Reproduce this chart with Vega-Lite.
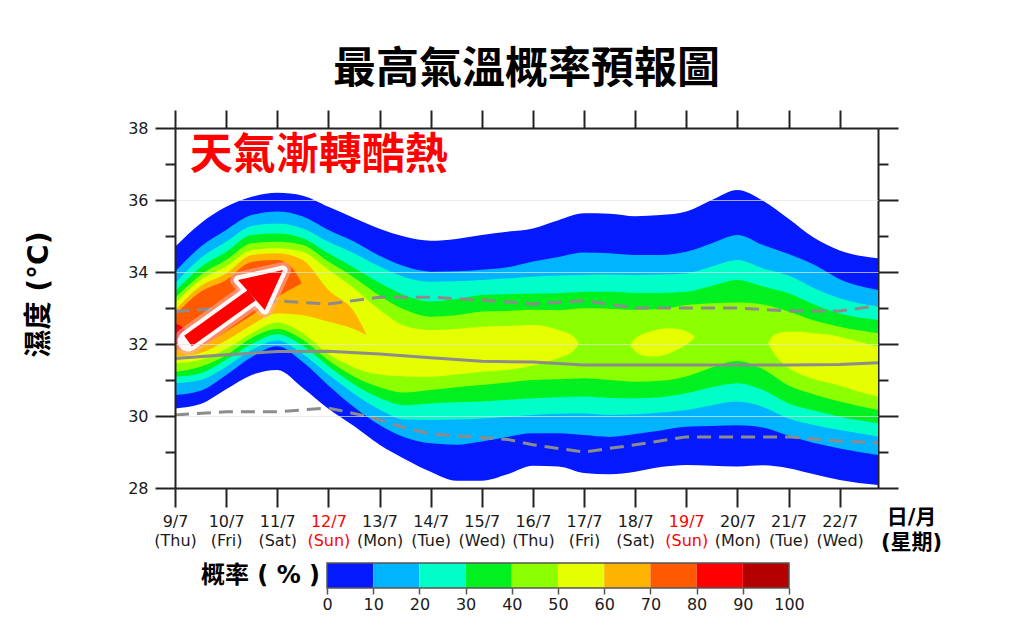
{
  "$schema": "https://vega.github.io/schema/vega-lite/v6.json",
  "background": "white",
  "padding": {"left": 25, "top": 49, "right": 5, "bottom": 5},
  "spacing": 10,
  "config": {"view": {"stroke": null}},
  "datasets": {
    "bands": [
      {"g":"L0","d":9,"t":34.70,"b":30.21},{"g":"L0","d":9.5,"t":35.35,"b":30.33},{"g":"L0","d":10,"t":35.81,"b":30.74},{"g":"L0","d":10.5,"t":36.09,"b":31.14},{"g":"L0","d":11,"t":36.20,"b":31.28},{"g":"L0","d":11.5,"t":36.12,"b":30.78},{"g":"L0","d":12,"t":35.81,"b":30.20},{"g":"L0","d":12.5,"t":35.50,"b":29.72},{"g":"L0","d":13,"t":35.20,"b":29.20},{"g":"L0","d":13.5,"t":34.98,"b":28.80},{"g":"L0","d":14,"t":34.87,"b":28.45},{"g":"L0","d":14.5,"t":34.92,"b":28.20},{"g":"L0","d":15,"t":35.03,"b":28.20},{"g":"L0","d":15.5,"t":35.12,"b":28.38},{"g":"L0","d":16,"t":35.21,"b":28.62},{"g":"L0","d":16.5,"t":35.44,"b":28.60},{"g":"L0","d":17,"t":35.63,"b":28.42},{"g":"L0","d":17.5,"t":35.62,"b":28.38},{"g":"L0","d":18,"t":35.55,"b":28.45},{"g":"L0","d":18.5,"t":35.58,"b":28.58},{"g":"L0","d":19,"t":35.68,"b":28.64},{"g":"L0","d":19.5,"t":36.00,"b":28.62},{"g":"L0","d":20,"t":36.28,"b":28.60},{"g":"L0","d":20.5,"t":35.98,"b":28.63},{"g":"L0","d":21,"t":35.48,"b":28.55},{"g":"L0","d":21.5,"t":34.95,"b":28.38},{"g":"L0","d":22,"t":34.60,"b":28.22},{"g":"L0","d":22.75,"t":34.38,"b":28.08},
      {"g":"L10","d":9,"t":34.01,"b":30.58},{"g":"L10","d":9.5,"t":34.70,"b":30.70},{"g":"L10","d":10,"t":35.17,"b":31.14},{"g":"L10","d":10.5,"t":35.58,"b":31.64},{"g":"L10","d":11,"t":35.68,"b":31.94},{"g":"L10","d":11.5,"t":35.54,"b":31.50},{"g":"L10","d":12,"t":35.17,"b":30.85},{"g":"L10","d":12.5,"t":34.85,"b":30.25},{"g":"L10","d":13,"t":34.45,"b":29.75},{"g":"L10","d":13.5,"t":34.15,"b":29.40},{"g":"L10","d":14,"t":34.01,"b":29.24},{"g":"L10","d":14.5,"t":34.02,"b":29.20},{"g":"L10","d":15,"t":34.06,"b":29.29},{"g":"L10","d":15.5,"t":34.13,"b":29.42},{"g":"L10","d":16,"t":34.29,"b":29.52},{"g":"L10","d":16.5,"t":34.42,"b":29.52},{"g":"L10","d":17,"t":34.54,"b":29.47},{"g":"L10","d":17.5,"t":34.52,"b":29.42},{"g":"L10","d":18,"t":34.47,"b":29.50},{"g":"L10","d":18.5,"t":34.47,"b":29.60},{"g":"L10","d":19,"t":34.56,"b":29.70},{"g":"L10","d":19.5,"t":34.80,"b":29.72},{"g":"L10","d":20,"t":35.03,"b":29.74},{"g":"L10","d":20.5,"t":34.75,"b":29.68},{"g":"L10","d":21,"t":34.50,"b":29.45},{"g":"L10","d":21.5,"t":34.20,"b":29.25},{"g":"L10","d":22,"t":33.80,"b":29.10},{"g":"L10","d":22.75,"t":33.50,"b":28.92},
      {"g":"L20","d":9,"t":33.69,"b":30.91},{"g":"L20","d":9.5,"t":34.38,"b":31.00},{"g":"L20","d":10,"t":34.84,"b":31.37},{"g":"L20","d":10.5,"t":35.28,"b":31.83},{"g":"L20","d":11,"t":35.35,"b":32.10},{"g":"L20","d":11.5,"t":35.21,"b":31.72},{"g":"L20","d":12,"t":34.84,"b":31.15},{"g":"L20","d":12.5,"t":34.52,"b":30.62},{"g":"L20","d":13,"t":34.15,"b":30.18},{"g":"L20","d":13.5,"t":33.85,"b":29.90},{"g":"L20","d":14,"t":33.73,"b":29.89},{"g":"L20","d":14.5,"t":33.74,"b":29.90},{"g":"L20","d":15,"t":33.78,"b":29.93},{"g":"L20","d":15.5,"t":33.82,"b":29.98},{"g":"L20","d":16,"t":33.87,"b":30.03},{"g":"L20","d":16.5,"t":33.90,"b":30.06},{"g":"L20","d":17,"t":33.92,"b":30.07},{"g":"L20","d":17.5,"t":33.93,"b":30.03},{"g":"L20","d":18,"t":33.92,"b":30.05},{"g":"L20","d":18.5,"t":33.93,"b":30.10},{"g":"L20","d":19,"t":33.96,"b":30.17},{"g":"L20","d":19.5,"t":34.15,"b":30.30},{"g":"L20","d":20,"t":34.33,"b":30.40},{"g":"L20","d":20.5,"t":34.10,"b":30.25},{"g":"L20","d":21,"t":33.90,"b":29.93},{"g":"L20","d":21.5,"t":33.55,"b":29.75},{"g":"L20","d":22,"t":33.27,"b":29.61},{"g":"L20","d":22.75,"t":33.04,"b":29.43},
      {"g":"L30","d":9,"t":33.45,"b":31.09},{"g":"L30","d":9.5,"t":34.13,"b":31.19},{"g":"L30","d":10,"t":34.56,"b":31.56},{"g":"L30","d":10.5,"t":35.03,"b":32.00},{"g":"L30","d":11,"t":35.07,"b":32.27},{"g":"L30","d":11.5,"t":34.94,"b":31.95},{"g":"L30","d":12,"t":34.52,"b":31.38},{"g":"L30","d":12.5,"t":34.12,"b":30.88},{"g":"L30","d":13,"t":33.70,"b":30.50},{"g":"L30","d":13.5,"t":33.35,"b":30.30},{"g":"L30","d":14,"t":33.18,"b":30.35},{"g":"L30","d":14.5,"t":33.25,"b":30.38},{"g":"L30","d":15,"t":33.36,"b":30.40},{"g":"L30","d":15.5,"t":33.38,"b":30.45},{"g":"L30","d":16,"t":33.40,"b":30.49},{"g":"L30","d":16.5,"t":33.41,"b":30.52},{"g":"L30","d":17,"t":33.45,"b":30.54},{"g":"L30","d":17.5,"t":33.45,"b":30.50},{"g":"L30","d":18,"t":33.42,"b":30.49},{"g":"L30","d":18.5,"t":33.42,"b":30.52},{"g":"L30","d":19,"t":33.45,"b":30.63},{"g":"L30","d":19.5,"t":33.62,"b":30.80},{"g":"L30","d":20,"t":33.78,"b":30.91},{"g":"L30","d":20.5,"t":33.60,"b":30.72},{"g":"L30","d":21,"t":33.41,"b":30.35},{"g":"L30","d":21.5,"t":33.10,"b":30.15},{"g":"L30","d":22,"t":32.85,"b":29.98},{"g":"L30","d":22.75,"t":32.67,"b":29.80},
      {"g":"L40","d":9,"t":33.27,"b":31.23},{"g":"L40","d":9.5,"t":33.92,"b":31.37},{"g":"L40","d":10,"t":34.33,"b":31.69},{"g":"L40","d":10.5,"t":34.80,"b":32.17},{"g":"L40","d":11,"t":34.84,"b":32.42},{"g":"L40","d":11.5,"t":34.75,"b":32.12},{"g":"L40","d":12,"t":34.29,"b":31.55},{"g":"L40","d":12.5,"t":33.85,"b":31.10},{"g":"L40","d":13,"t":33.35,"b":30.80},{"g":"L40","d":13.5,"t":32.95,"b":30.65},{"g":"L40","d":14,"t":32.76,"b":30.72},{"g":"L40","d":14.5,"t":32.80,"b":30.80},{"g":"L40","d":15,"t":32.90,"b":30.86},{"g":"L40","d":15.5,"t":32.92,"b":30.93},{"g":"L40","d":16,"t":32.95,"b":31.00},{"g":"L40","d":16.5,"t":32.94,"b":31.02},{"g":"L40","d":17,"t":32.99,"b":31.05},{"g":"L40","d":17.5,"t":32.98,"b":31.00},{"g":"L40","d":18,"t":32.95,"b":30.95},{"g":"L40","d":18.5,"t":32.97,"b":30.98},{"g":"L40","d":19,"t":33.08,"b":31.10},{"g":"L40","d":19.5,"t":33.13,"b":31.35},{"g":"L40","d":20,"t":33.15,"b":31.53},{"g":"L40","d":20.5,"t":33.10,"b":31.30},{"g":"L40","d":21,"t":32.90,"b":30.85},{"g":"L40","d":21.5,"t":32.65,"b":30.60},{"g":"L40","d":22,"t":32.48,"b":30.40},{"g":"L40","d":22.75,"t":32.30,"b":30.17},
      {"g":"L50a","d":9,"t":33.13,"b":31.46},{"g":"L50a","d":9.5,"t":33.78,"b":31.56},{"g":"L50a","d":10,"t":34.15,"b":31.86},{"g":"L50a","d":10.5,"t":34.61,"b":32.30},{"g":"L50a","d":11,"t":34.66,"b":32.60},{"g":"L50a","d":11.5,"t":34.56,"b":32.30},{"g":"L50a","d":12,"t":34.06,"b":31.72},{"g":"L50a","d":12.5,"t":33.55,"b":31.35},{"g":"L50a","d":13,"t":32.95,"b":31.15},{"g":"L50a","d":13.5,"t":32.50,"b":31.10},{"g":"L50a","d":14,"t":32.39,"b":31.09},{"g":"L50a","d":14.5,"t":32.42,"b":31.15},{"g":"L50a","d":15,"t":32.48,"b":31.23},{"g":"L50a","d":15.5,"t":32.50,"b":31.28},{"g":"L50a","d":16,"t":32.53,"b":31.40},{"g":"L50a","d":16.5,"t":32.39,"b":31.61},{"g":"L50a","d":16.8,"t":32.20,"b":31.82},{"g":"L50a","d":16.9,"t":32.00,"b":32.00},
      {"g":"L50b","d":17.9,"t":31.97,"b":31.97},{"g":"L50b","d":18.0,"t":32.15,"b":31.80},{"g":"L50b","d":18.15,"t":32.27,"b":31.68},{"g":"L50b","d":18.35,"t":32.37,"b":31.65},{"g":"L50b","d":18.65,"t":32.44,"b":31.73},{"g":"L50b","d":18.85,"t":32.42,"b":31.86},{"g":"L50b","d":19.02,"t":32.34,"b":32.00},{"g":"L50b","d":19.12,"t":32.26,"b":32.12},{"g":"L50b","d":19.17,"t":32.19,"b":32.19},
      {"g":"L50c","d":20.6,"t":32.02,"b":32.02},{"g":"L50c","d":20.68,"t":32.20,"b":31.82},{"g":"L50c","d":20.8,"t":32.30,"b":31.58},{"g":"L50c","d":21.0,"t":32.34,"b":31.34},{"g":"L50c","d":21.2,"t":32.34,"b":31.18},{"g":"L50c","d":21.5,"t":32.30,"b":31.02},{"g":"L50c","d":21.84,"t":32.25,"b":30.90},{"g":"L50c","d":22.2,"t":32.13,"b":30.76},{"g":"L50c","d":22.49,"t":32.02,"b":30.63},{"g":"L50c","d":22.75,"t":31.93,"b":30.54},
      {"g":"L60","d":9,"t":32.94,"b":31.65},{"g":"L60","d":9.5,"t":33.61,"b":31.75},{"g":"L60","d":10,"t":33.96,"b":32.10},{"g":"L60","d":10.5,"t":34.47,"b":32.53},{"g":"L60","d":11,"t":34.52,"b":32.85},{"g":"L60","d":11.5,"t":34.33,"b":32.80},{"g":"L60","d":12,"t":33.50,"b":32.62},{"g":"L60","d":12.5,"t":32.90,"b":32.42},{"g":"L60","d":12.75,"t":32.25,"b":32.25},
      {"g":"L70","d":9,"t":32.81,"b":31.83},{"g":"L70","d":9.5,"t":33.45,"b":31.95},{"g":"L70","d":10,"t":33.78,"b":32.35},{"g":"L70","d":10.5,"t":34.28,"b":32.80},{"g":"L70","d":11,"t":34.33,"b":33.30},{"g":"L70","d":11.3,"t":34.10,"b":33.55},{"g":"L70","d":11.48,"t":33.69,"b":33.69},
      {"g":"L80","d":9,"t":32.57,"b":31.97},{"g":"L80","d":9.12,"t":32.50,"b":32.05},{"g":"L80","d":9.25,"t":32.30,"b":32.30}
    ],
    "median": [{"d":9,"v":31.6},{"d":10,"v":31.7},{"d":11,"v":31.79},{"d":12,"v":31.8},{"d":13,"v":31.72},{"d":14,"v":31.62},{"d":15,"v":31.52},{"d":16,"v":31.5},{"d":17,"v":31.42},{"d":18,"v":31.42},{"d":19,"v":31.42},{"d":20,"v":31.42},{"d":21,"v":31.42},{"d":22,"v":31.43},{"d":22.75,"v":31.48}],
    "upper": [{"d":9,"v":32.9},{"d":10,"v":33.0},{"d":11,"v":33.2},{"d":12,"v":33.11},{"d":13,"v":33.3},{"d":14,"v":33.3},{"d":15,"v":33.22},{"d":16,"v":33.11},{"d":17,"v":33.2},{"d":18,"v":33.0},{"d":19,"v":33.0},{"d":20,"v":33.0},{"d":21,"v":32.92},{"d":22,"v":32.92},{"d":22.75,"v":33.06}],
    "lower": [{"d":9,"v":30.03},{"d":10,"v":30.12},{"d":11,"v":30.12},{"d":12,"v":30.22},{"d":12.8,"v":29.98},{"d":13.5,"v":29.67},{"d":14,"v":29.5},{"d":15,"v":29.4},{"d":15.5,"v":29.35},{"d":16,"v":29.2},{"d":17,"v":29.0},{"d":18,"v":29.2},{"d":19,"v":29.42},{"d":20,"v":29.42},{"d":21,"v":29.42},{"d":22,"v":29.3},{"d":22.75,"v":29.26}],
    "shaft": [{"d":9.2545,"v":32.083},{"d":10.5,"v":33.355}],
    "head": [{"d":10.233,"t":33.778,"b":33.778},{"d":10.756,"t":33.943,"b":32.944},{"d":11.114,"t":34.056,"b":34.056}],
    "note": [{"d":9.29,"v":37.21,"txt":"天氣漸轉酷熱"}],
    "cells": [{"lo":0,"hi":10,"c":"#0519ff"},{"lo":10,"hi":20,"c":"#00b4ff"},{"lo":20,"hi":30,"c":"#00ffc8"},{"lo":30,"hi":40,"c":"#00f020"},{"lo":40,"hi":50,"c":"#8cff00"},{"lo":50,"hi":60,"c":"#e6ff00"},{"lo":60,"hi":70,"c":"#ffb400"},{"lo":70,"hi":80,"c":"#ff5a00"},{"lo":80,"hi":90,"c":"#ff0000"},{"lo":90,"hi":100,"c":"#b40000"}],
    "frame": [{"lo":0,"hi":100}],
    "legtitle": [{"x":-1.5,"txt":"概率 ( % )"}]
  },
  "vconcat": [
    {
      "width": 703,
      "height": 360,
      "title": {"text": "最高氣溫概率預報圖", "font": "Noto Sans CJK TC", "fontSize": 43, "fontWeight": "bold", "color": "#000000", "anchor": "middle", "offset": 17},
      "resolve": {"axis": {"x": "independent", "y": "independent"}},
      "layer": [
        {
          "data": {"name": "bands"},
          "transform": [{"filter": "datum.g == 'L0'"}],
          "mark": {"type": "area", "interpolate": "monotone", "color": "#0519ff"},
          "encoding": {
            "x": {"field": "d", "type": "quantitative", "scale": {"domain": [9, 22.75], "nice": false, "zero": false},
              "axis": {"orient": "bottom", "values": [9,10,11,12,13,14,15,16,17,18,19,20,21,22], "grid": false, "tickSize": 19, "tickWidth": 2, "tickColor": "#222222", "domainColor": "#222222", "domainWidth": 2,
                "labelFont": "DejaVu Sans", "labelFontSize": 16, "labelPadding": 6, "labelLineHeight": 19, "labelFlush": false, "labelOverlap": false,
                "labelColor": {"condition": {"test": "datum.value == 12 || datum.value == 19", "value": "#ff0000"}, "value": "#1a1a1a"},
                "labelExpr": "[datum.value + '/7', '(' + ['Thu','Fri','Sat','Sun','Mon','Tue','Wed'][(datum.value - 9) % 7] + ')']",
                "title": ["日/月", "(星期)"], "titleFont": "DejaVu Sans, Noto Sans CJK TC", "titleFontSize": 21, "titleFontWeight": "bold", "titleColor": "#000000",
                "titleX": 736, "titleY": 18, "titleAlign": "center", "titleBaseline": "top", "titleLineHeight": 25}},
            "y": {"field": "t", "type": "quantitative", "stack": null, "scale": {"domain": [28, 38], "nice": false, "zero": false},
              "axis": {"orient": "left", "values": [28,29,30,31,32,33,34,35,36,37,38], "zindex": 1,
                "tickSize": {"condition": {"test": "datum.value % 2 == 0", "value": 20}, "value": 10}, "tickWidth": 2, "tickColor": "#222222", "domainColor": "#222222", "domainWidth": 2,
                "labelExpr": "datum.value % 2 == 0 ? datum.label : ''", "labelFont": "DejaVu Sans", "labelFontSize": 16, "labelColor": "#1a1a1a", "labelPadding": 7,
                "grid": true, "gridColor": "#e4e4e4", "gridWidth": 1.2,
                "gridOpacity": {"condition": {"test": "datum.value % 2 == 0 && datum.value > 28 && datum.value < 38", "value": 0.7}, "value": 0},
                "title": "濕度 (°C)", "titleFont": "DejaVu Sans, Noto Sans CJK TC", "titleFontSize": 28, "titleFontWeight": "bold", "titleColor": "#000000", "titlePadding": 74, "titleY": 166}},
            "y2": {"field": "b"}
          }
        },
        {"data": {"name": "bands"}, "transform": [{"filter": "datum.g == 'L10'"}], "mark": {"type": "area", "interpolate": "monotone", "color": "#00b4ff"},
          "encoding": {"x": {"field": "d", "type": "quantitative", "axis": null}, "y": {"field": "t", "type": "quantitative", "stack": null, "axis": null}, "y2": {"field": "b"}}},
        {"data": {"name": "bands"}, "transform": [{"filter": "datum.g == 'L20'"}], "mark": {"type": "area", "interpolate": "monotone", "color": "#00ffc8"},
          "encoding": {"x": {"field": "d", "type": "quantitative", "axis": null}, "y": {"field": "t", "type": "quantitative", "stack": null, "axis": null}, "y2": {"field": "b"}}},
        {"data": {"name": "bands"}, "transform": [{"filter": "datum.g == 'L30'"}], "mark": {"type": "area", "interpolate": "monotone", "color": "#00f020"},
          "encoding": {"x": {"field": "d", "type": "quantitative", "axis": null}, "y": {"field": "t", "type": "quantitative", "stack": null, "axis": null}, "y2": {"field": "b"}}},
        {"data": {"name": "bands"}, "transform": [{"filter": "datum.g == 'L40'"}], "mark": {"type": "area", "interpolate": "monotone", "color": "#8cff00"},
          "encoding": {"x": {"field": "d", "type": "quantitative", "axis": null}, "y": {"field": "t", "type": "quantitative", "stack": null, "axis": null}, "y2": {"field": "b"}}},
        {"data": {"name": "bands"}, "transform": [{"filter": "datum.g == 'L50a'"}], "mark": {"type": "area", "interpolate": "monotone", "color": "#e6ff00"},
          "encoding": {"x": {"field": "d", "type": "quantitative", "axis": null}, "y": {"field": "t", "type": "quantitative", "stack": null, "axis": null}, "y2": {"field": "b"}}},
        {"data": {"name": "bands"}, "transform": [{"filter": "datum.g == 'L50b'"}], "mark": {"type": "area", "interpolate": "monotone", "color": "#e6ff00"},
          "encoding": {"x": {"field": "d", "type": "quantitative", "axis": null}, "y": {"field": "t", "type": "quantitative", "stack": null, "axis": null}, "y2": {"field": "b"}}},
        {"data": {"name": "bands"}, "transform": [{"filter": "datum.g == 'L50c'"}], "mark": {"type": "area", "interpolate": "monotone", "color": "#e6ff00"},
          "encoding": {"x": {"field": "d", "type": "quantitative", "axis": null}, "y": {"field": "t", "type": "quantitative", "stack": null, "axis": null}, "y2": {"field": "b"}}},
        {"data": {"name": "bands"}, "transform": [{"filter": "datum.g == 'L60'"}], "mark": {"type": "area", "interpolate": "monotone", "color": "#ffb400"},
          "encoding": {"x": {"field": "d", "type": "quantitative", "axis": null}, "y": {"field": "t", "type": "quantitative", "stack": null, "axis": null}, "y2": {"field": "b"}}},
        {"data": {"name": "bands"}, "transform": [{"filter": "datum.g == 'L70'"}], "mark": {"type": "area", "interpolate": "monotone", "color": "#ff5a00"},
          "encoding": {"x": {"field": "d", "type": "quantitative", "axis": null}, "y": {"field": "t", "type": "quantitative", "stack": null, "axis": null}, "y2": {"field": "b"}}},
        {"data": {"name": "bands"}, "transform": [{"filter": "datum.g == 'L80'"}], "mark": {"type": "area", "interpolate": "monotone", "color": "#ff0000"},
          "encoding": {"x": {"field": "d", "type": "quantitative", "axis": null}, "y": {"field": "t", "type": "quantitative", "stack": null, "axis": null}, "y2": {"field": "b"}}},
        {"data": {"name": "upper"}, "mark": {"type": "line", "color": "#8c8c8c", "strokeWidth": 3, "strokeDash": [14, 8]},
          "encoding": {"x": {"field": "d", "type": "quantitative", "axis": null}, "y": {"field": "v", "type": "quantitative", "axis": null}}},
        {"data": {"name": "lower"}, "mark": {"type": "line", "color": "#8c8c8c", "strokeWidth": 3, "strokeDash": [14, 8]},
          "encoding": {"x": {"field": "d", "type": "quantitative", "axis": null}, "y": {"field": "v", "type": "quantitative", "axis": null}}},
        {"data": {"name": "median"}, "mark": {"type": "line", "color": "#8c8c8c", "strokeWidth": 3},
          "encoding": {
            "x": {"field": "d", "type": "quantitative", "axis": {"orient": "top", "values": [9,10,11,12,13,14,15,16,17,18,19,20,21,22], "labels": false, "grid": false, "tickSize": 18, "tickWidth": 2, "tickColor": "#222222", "domainColor": "#222222", "domainWidth": 2, "title": null}},
            "y": {"field": "v", "type": "quantitative", "axis": {"orient": "right", "values": [28,29,30,31,32,33,34,35,36,37,38], "labels": false, "grid": false, "tickSize": {"condition": {"test": "datum.value % 2 == 0", "value": 20}, "value": 10}, "tickWidth": 2, "tickColor": "#222222", "domainColor": "#222222", "domainWidth": 2, "title": null}}
          }},
        {"data": {"name": "shaft"}, "mark": {"type": "line", "color": "#ffb0b0", "opacity": 0.55, "strokeWidth": 28, "strokeCap": "round"},
          "encoding": {"x": {"field": "d", "type": "quantitative", "axis": null}, "y": {"field": "v", "type": "quantitative", "axis": null}}},
        {"data": {"name": "head"}, "mark": {"type": "area", "color": "#ffb0b0", "opacity": 0.55, "stroke": "#ffb0b0", "strokeWidth": 16, "strokeJoin": "round"},
          "encoding": {"x": {"field": "d", "type": "quantitative", "axis": null}, "y": {"field": "t", "type": "quantitative", "stack": null, "axis": null}, "y2": {"field": "b"}}},
        {"data": {"name": "shaft"}, "mark": {"type": "line", "color": "#ffffff", "opacity": 0.95, "strokeWidth": 21, "strokeCap": "round"},
          "encoding": {"x": {"field": "d", "type": "quantitative", "axis": null}, "y": {"field": "v", "type": "quantitative", "axis": null}}},
        {"data": {"name": "head"}, "mark": {"type": "area", "color": "#ffffff", "opacity": 0.95, "stroke": "#ffffff", "strokeWidth": 9, "strokeJoin": "round"},
          "encoding": {"x": {"field": "d", "type": "quantitative", "axis": null}, "y": {"field": "t", "type": "quantitative", "stack": null, "axis": null}, "y2": {"field": "b"}}},
        {"data": {"name": "shaft"}, "mark": {"type": "line", "color": "#ff0000", "strokeWidth": 13, "strokeCap": "butt"},
          "encoding": {"x": {"field": "d", "type": "quantitative", "axis": null}, "y": {"field": "v", "type": "quantitative", "axis": null}}},
        {"data": {"name": "head"}, "mark": {"type": "area", "color": "#ff0000"},
          "encoding": {"x": {"field": "d", "type": "quantitative", "axis": null}, "y": {"field": "t", "type": "quantitative", "stack": null, "axis": null}, "y2": {"field": "b"}}},
        {"data": {"name": "note"}, "mark": {"type": "text", "align": "left", "baseline": "middle", "font": "Noto Sans CJK TC", "fontSize": 43, "fontWeight": "bold", "color": "#ff0000"},
          "encoding": {"x": {"field": "d", "type": "quantitative", "axis": null}, "y": {"field": "v", "type": "quantitative", "axis": null}, "text": {"field": "txt"}}}
      ]
    },
    {
      "width": 703,
      "height": 25,
      "layer": [
        {"data": {"name": "cells"}, "mark": {"type": "rect"},
          "encoding": {
            "x": {"field": "lo", "type": "quantitative", "scale": {"domain": [-32.9, 119.26], "nice": false, "zero": false},
              "axis": {"orient": "bottom", "values": [0,10,20,30,40,50,60,70,80,90,100], "domain": false, "grid": false, "tickSize": 6, "tickWidth": 1.5, "tickColor": "#555555", "labelFont": "DejaVu Sans", "labelFontSize": 16, "labelColor": "#1a1a1a", "labelPadding": 2, "labelFlush": false, "title": null}},
            "x2": {"field": "hi"},
            "color": {"field": "c", "type": "nominal", "scale": null, "legend": null}
          }},
        {"data": {"name": "frame"}, "mark": {"type": "rect", "fill": null, "stroke": "#555555", "strokeWidth": 1.5},
          "encoding": {"x": {"field": "lo", "type": "quantitative"}, "x2": {"field": "hi"}}},
        {"data": {"name": "legtitle"}, "mark": {"type": "text", "align": "right", "baseline": "middle", "font": "DejaVu Sans, Noto Sans CJK TC", "fontSize": 24, "fontWeight": "bold", "color": "#000000"},
          "encoding": {"x": {"field": "x", "type": "quantitative"}, "text": {"field": "txt"}}}
      ]
    }
  ]
}
